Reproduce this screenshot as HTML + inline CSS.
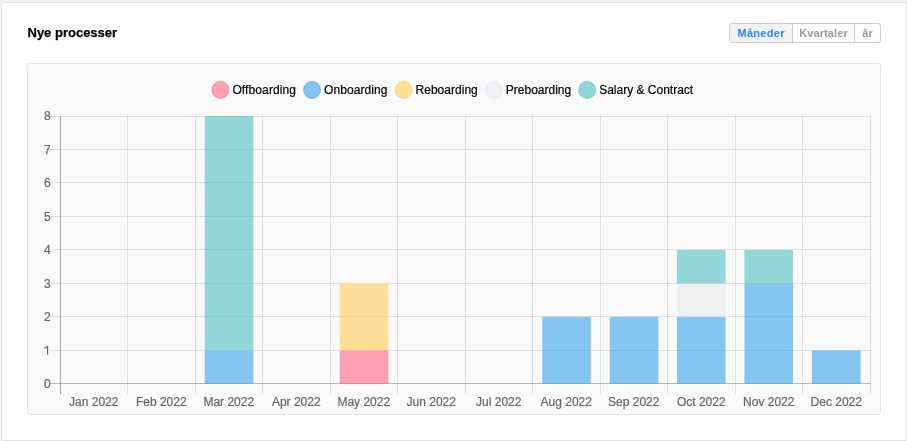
<!DOCTYPE html>
<html><head><meta charset="utf-8">
<style>
html,body{margin:0;padding:0}
body{width:907px;height:441px;background:#f2f2f2;position:relative;overflow:hidden;font-family:"Liberation Sans",sans-serif}
.card{position:absolute;left:1px;top:2px;width:904px;height:437px;border:1px solid #e2e2e2;border-radius:2px;background:#fff}
.title{position:absolute;left:27.5px;top:25px;font-weight:bold;font-size:13px;line-height:15px;color:#000;white-space:nowrap;-webkit-text-stroke:.25px #000}
.btns{position:absolute;left:729px;top:23px;width:150px;height:18px;border:1px solid #ccc;border-radius:3px;background:#fff;overflow:hidden;display:flex}
.btns div{height:18px;font-size:11px;font-weight:bold;line-height:18px;color:#999;text-align:center;box-sizing:border-box}
.b1{width:63px;letter-spacing:.3px;text-indent:.3px;background:#f2f2f2;color:#2a8af6 !important;border-right:1px solid #ccc}
.b2{width:62px;letter-spacing:.1px;border-right:1px solid #ccc}
.b3{width:25px;letter-spacing:.2px;text-indent:.4px}
.chartbox{position:absolute;left:27px;top:63px;width:852px;height:350px;border:1px solid #e4e4e4;border-radius:3px;background:#fafafa}
svg{position:absolute;left:0;top:0}
svg text{font-family:"Liberation Sans",sans-serif;font-size:12px;stroke:currentColor;stroke-width:.2px}
</style></head>
<body><div style="position:absolute;inset:0;will-change:transform">
<div class="card"></div>
<div class="title">Nye processer</div>
<div class="btns"><div class="b1">Måneder</div><div class="b2">Kvartaler</div><div class="b3">år</div></div>
<div class="chartbox"></div>
<svg width="907" height="441" viewBox="0 0 907 441">
<!-- legend -->
<g>
<circle cx="220.4" cy="89.9" r="8.485" fill="rgba(255,99,132,0.6)" stroke="rgba(255,99,132,0.6)" stroke-width="1"/>
<text x="232.40" y="94.2" fill="#000" textLength="63.65" lengthAdjust="spacing">Offboarding</text>
<circle cx="312.05" cy="89.9" r="8.485" fill="rgba(54,162,235,0.6)" stroke="rgba(54,162,235,0.6)" stroke-width="1"/>
<text x="324.05" y="94.2" fill="#000" textLength="63.45" lengthAdjust="spacing">Onboarding</text>
<circle cx="403.5" cy="89.9" r="8.485" fill="rgba(255,205,86,0.6)" stroke="rgba(255,205,86,0.6)" stroke-width="1"/>
<text x="415.50" y="94.2" fill="#000" textLength="62.3" lengthAdjust="spacing">Reboarding</text>
<circle cx="493.8" cy="89.9" r="8.485" fill="#eff0f3" stroke="#eceef1" stroke-width="1"/>
<text x="505.80" y="94.2" fill="#000" textLength="65.35" lengthAdjust="spacing">Preboarding</text>
<circle cx="587.15" cy="89.9" r="8.485" fill="rgba(75,192,192,0.6)" stroke="rgba(75,192,192,0.6)" stroke-width="1"/>
<text x="599.15" y="94.2" fill="#000">Salary &amp; Contract</text>
</g>
<!-- grid -->
<g stroke="rgba(0,0,0,0.1)" stroke-width="1" fill="none">
<path d="M50 116.5H871M50 149.5H871M50 182.5H871M50 216.5H871M50 249.5H871M50 283.5H871M50 316.5H871M50 350.5H871"/>
<path d="M127.5 115.8V394M195.5 115.8V394M262.5 115.8V394M330.5 115.8V394M397.5 115.8V394M465.5 115.8V394M532.5 115.8V394M600.5 115.8V394M667.5 115.8V394M735.5 115.8V394M802.5 115.8V394M870.5 115.8V394"/>
</g>
<g stroke="rgba(0,0,0,0.1)" stroke-width="1" fill="none">
<path d="M60.5 115.8V394"/>
</g>
<g stroke="rgba(0,0,0,0.26)" stroke-width="1" fill="none">
<path d="M50 383.5H870.6M60.5 115.8V394"/>
</g>
<!-- bars -->
<g>
<rect x="204.75" y="350.412" width="48.6" height="33.488" fill="rgba(54,162,235,0.6)"/>
<rect x="204.75" y="116.000" width="48.6" height="234.412" fill="rgba(75,192,192,0.6)"/>
<rect x="339.75" y="350.412" width="48.6" height="33.488" fill="rgba(255,99,132,0.6)"/>
<rect x="339.75" y="283.438" width="48.6" height="66.975" fill="rgba(255,205,86,0.6)"/>
<rect x="542.25" y="316.925" width="48.6" height="66.975" fill="rgba(54,162,235,0.6)"/>
<rect x="609.75" y="316.925" width="48.6" height="66.975" fill="rgba(54,162,235,0.6)"/>
<rect x="676.95" y="316.925" width="48.6" height="66.975" fill="rgba(54,162,235,0.6)"/>
<rect x="676.95" y="283.438" width="48.6" height="33.487" fill="rgba(228,230,234,0.5)"/>
<rect x="676.95" y="249.950" width="48.6" height="33.488" fill="rgba(75,192,192,0.6)"/>
<rect x="744.45" y="283.438" width="48.6" height="100.462" fill="rgba(54,162,235,0.6)"/>
<rect x="744.45" y="249.950" width="48.6" height="33.488" fill="rgba(75,192,192,0.6)"/>
<rect x="811.95" y="350.412" width="48.6" height="33.488" fill="rgba(54,162,235,0.6)"/>
</g>
<!-- y labels -->
<g fill="#666" color="#666" text-anchor="end">
<text x="50.8" y="120.40">8</text>
<text x="50.8" y="153.89">7</text>
<text x="50.8" y="187.38">6</text>
<text x="50.8" y="220.86">5</text>
<text x="50.8" y="254.35">4</text>
<text x="50.8" y="287.84">3</text>
<text x="50.8" y="321.32">2</text>
<text x="50.8" y="388.30">0</text>
</g>
<path fill="#666" d="M47.05 346.06H48.2V354.81H47.05V348.01C46.4 348.41 45.3 348.51 44.3 348.51V347.46C45.6 347.46 46.8 347.01 47.05 346.06Z"/>
<!-- x labels -->
<g fill="#666" color="#666" text-anchor="middle">
<text x="93.75" y="406">Jan 2022</text>
<text x="161.25" y="406">Feb 2022</text>
<text x="228.75" y="406">Mar 2022</text>
<text x="296.25" y="406">Apr 2022</text>
<text x="363.75" y="406">May 2022</text>
<text x="431.25" y="406">Jun 2022</text>
<text x="498.75" y="406">Jul 2022</text>
<text x="566.25" y="406">Aug 2022</text>
<text x="633.75" y="406">Sep 2022</text>
<text x="701.25" y="406">Oct 2022</text>
<text x="768.75" y="406">Nov 2022</text>
<text x="836.25" y="406">Dec 2022</text>
</g>
</svg>
</div></body></html>
